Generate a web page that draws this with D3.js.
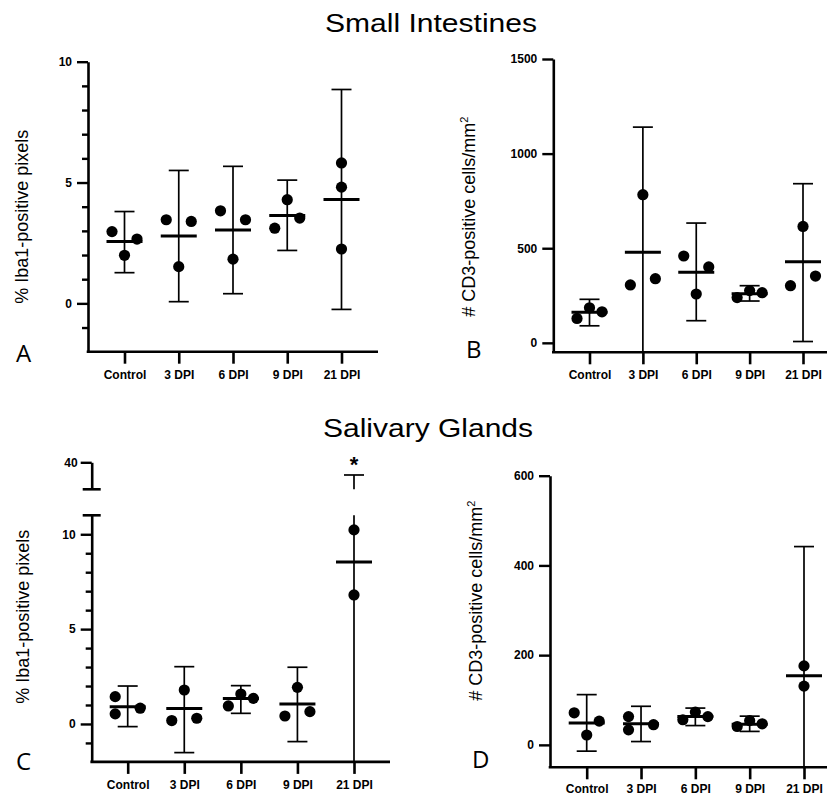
<!DOCTYPE html>
<html><head><meta charset="utf-8">
<script src="https://cdn.jsdelivr.net/npm/d3@7"></script>
<style>body{margin:0;background:#fff} svg{display:block}</style>
</head><body>
<svg id="c" width="828" height="796"></svg>
<script>
const categories = ["Control", "3 DPI", "6 DPI", "9 DPI", "21 DPI"];

// Panel A: Small intestines, % Iba1-positive pixels
const siIba1Values = [[2.97, 1.99, 2.66], [3.46, 1.52, 3.39], [3.83, 1.83, 3.46], [3.11, 4.29, 3.53], [5.81, 4.81, 2.25]];
const siIba1Spread = [[-1, 0, 1], [-1, 0, 1], [-1, 0, 1], [-1, 0, 1], [0, 0, 0]];
const siIba1Mean = [2.56, 2.79, 3.04, 3.64, 4.30];
const siIba1Upper = [3.80, 5.50, 5.67, 5.10, 8.85];
const siIba1Lower = [1.27, 0.07, 0.40, 2.19, -0.25];
const siIba1Ticks = [0, 5, 10];

// Panel B: Small intestines, # CD3-positive cells/mm2
const siCd3Values = [[129, 185, 164], [306, 783, 339], [459, 258, 401], [239, 276, 265], [302, 615, 353]];
const siCd3Spread = [[-1, 0, 1], [-1, 0, 1], [-1, 0, 1], [-1, 0, 1], [-1, 0, 1]];
const siCd3Mean = [161, 479, 373, 260, 428];
const siCd3Upper = [230, 1140, 633, 302, 841];
const siCd3Lower = [90, -182, 117, 221, 7];
const siCd3Ticks = [0, 500, 1000, 1500];

// Panel C: Salivary glands, % Iba1-positive pixels (broken axis)
const sgIba1Values = [[1.44, 0.53, 0.83], [0.18, 1.79, 0.30], [0.95, 1.58, 1.35], [0.42, 1.93, 0.65], [10.23, 6.80]];
const sgIba1Spread = [[-1, -1, 1], [-1, 0, 1], [-1, 0, 1], [-1, 0, 1], [0, 0]];
const sgIba1Mean = [0.91, 0.81, 1.34, 1.05, 8.54];
const sgIba1Upper = [2.00, 3.02, 2.02, 2.99, 30.6];
const sgIba1Lower = [-0.14, -1.51, 0.56, -0.93, -13];
const sgIba1Ticks = [0, 5, 10];
const sgIba1UpperTicks = [40];
const sgIba1Sig = ["", "", "", "", "*"];

// Panel D: Salivary glands, # CD3-positive cells/mm2
const sgCd3Values = [[71.5, 22, 53], [63, 33.5, 45], [56, 73, 63], [41, 54, 47], [176, 131]];
const sgCd3Spread = [[-1, 0, 1], [-1, -1, 1], [-1, 0, 1], [-1, 0, 1], [0, 0]];
const sgCd3Mean = [49, 47, 63, 46, 154];
const sgCd3Upper = [112, 86, 82, 64, 442];
const sgCd3Lower = [-14, 7.4, 43, 30, -135];
const sgCd3Ticks = [0, 200, 400, 600];

const svg = d3.select("#c");
const FONT = "'Liberation Sans', Arial, Helvetica, sans-serif";

function title(txt, x, y, len) {
  svg.append("text").attr("x", x).attr("y", y).attr("font-family", FONT)
    .attr("font-size", 26).attr("textLength", len).attr("lengthAdjust", "spacingAndGlyphs")
    .attr("fill", "#000").text(txt);
}
title("Small Intestines", 325, 31.5, 212);
title("Salivary Glands", 323, 436.5, 210);

function styleAxis(g, sw) {
  g.selectAll(".domain").attr("stroke", "#000").attr("stroke-width", 2.6);
  g.selectAll(".tick line").attr("stroke", "#000").attr("stroke-width", sw || 2.4);
  g.selectAll(".tick text").attr("font-family", FONT).attr("font-weight", "bold")
    .attr("font-size", 12).attr("fill", "#000");
}

function panel(p) {
  const g = svg.append("g");
  const x = d3.scalePoint().domain(categories).range(p.catRange);
  const y = d3.scaleLinear().domain(p.yDomain).range(p.yRange);
  const yU = p.upper ? d3.scaleLinear().domain(p.upper.domain).range(p.upper.range) : null;
  const step = 12.5;

  // y axis (major)
  const ya = g.append("g").attr("transform", `translate(${p.x0},0)`)
    .call(d3.axisLeft(y).tickValues(p.ticks).tickSize(11).tickSizeOuter(0).tickPadding(5).tickFormat(d3.format("d")));
  styleAxis(ya);
  if (p.minor) {
    const ym = g.append("g").attr("transform", `translate(${p.x0},0)`)
      .call(d3.axisLeft(y).tickValues(p.minor).tickSize(6).tickSizeOuter(0).tickFormat(""));
    styleAxis(ym);
    ym.select(".domain").remove();
  }
  if (yU) {
    const yu = g.append("g").attr("transform", `translate(${p.x0},0)`)
      .call(d3.axisLeft(yU).tickValues(p.upper.ticks).tickSize(11).tickSizeOuter(0).tickPadding(3).tickFormat(d3.format("d")));
    styleAxis(yu);
    // break caps
    [yU(p.upper.domain[0]), y(p.yDomain[1])].forEach(yy => {
      g.append("line").attr("x1", p.x0 - 9).attr("x2", p.x0 + 9).attr("y1", yy).attr("y2", yy)
        .attr("stroke", "#000").attr("stroke-width", 2.6);
    });
  }
  // x axis
  const xBase = y(p.yDomain[0]);
  const xa = g.append("g").attr("transform", `translate(0,${xBase})`)
    .call(d3.axisBottom(x).tickSize(12).tickSizeOuter(0).tickPadding(p.xPad));
  styleAxis(xa, 2.6);
  xa.select(".domain").remove();
  g.append("line").attr("x1", p.x0 - 1.3).attr("x2", p.xEnd).attr("y1", xBase).attr("y2", xBase)
    .attr("stroke", "#000").attr("stroke-width", 2.6);

  // error bars
  const capW = 10, meanW = 18;
  categories.forEach((c, i) => {
    const cx = x(c);
    const lo = p.lower[i], hi = p.hi[i];
    const loC = Math.max(lo, p.yDomain[0]);
    const lineAttrs = sel => sel.attr("stroke", "#000").attr("stroke-width", 1.7).attr("fill", "none");
    if (yU && hi > p.yDomain[1]) {
      g.append("line").attr("x1", cx).attr("x2", cx).attr("y1", y(loC)).attr("y2", y(p.yDomain[1])).call(lineAttrs);
      g.append("line").attr("x1", cx).attr("x2", cx).attr("y1", yU(p.upper.domain[0])).attr("y2", yU(hi)).call(lineAttrs);
      g.append("line").attr("x1", cx - capW).attr("x2", cx + capW).attr("y1", yU(hi)).attr("y2", yU(hi)).call(lineAttrs);
    } else {
      g.append("line").attr("x1", cx).attr("x2", cx).attr("y1", y(loC)).attr("y2", y(hi)).call(lineAttrs);
      g.append("line").attr("x1", cx - capW).attr("x2", cx + capW).attr("y1", y(hi)).attr("y2", y(hi)).call(lineAttrs);
    }
    if (lo >= p.yDomain[0]) {
      g.append("line").attr("x1", cx - capW).attr("x2", cx + capW).attr("y1", y(lo)).attr("y2", y(lo)).call(lineAttrs);
    }
    // points
    p.values[i].forEach((v, j) => {
      g.append("circle").attr("cx", cx + p.spread[i][j] * step).attr("cy", y(v)).attr("r", 5.6).attr("fill", "#000");
    });
    // mean
    g.append("line").attr("x1", cx - meanW).attr("x2", cx + meanW).attr("y1", y(p.mean[i])).attr("y2", y(p.mean[i]))
      .attr("stroke", "#000").attr("stroke-width", 3);
    if (p.sig && p.sig[i]) {
      const yy = (yU && hi > p.yDomain[1]) ? yU(hi) : y(hi);
      g.append("text").attr("x", cx).attr("y", yy - 3).attr("text-anchor", "middle")
        .attr("font-family", FONT).attr("font-weight", "bold").attr("font-size", 22).text(p.sig[i]);
    }
  });

  // y title
  const t = g.append("text").attr("transform", `translate(${p.titleX},${p.titleY}) rotate(-90)`)
    .attr("text-anchor", "middle").attr("font-family", FONT).attr("font-size", 18).attr("fill", "#000");
  if (p.sup) {
    t.append("tspan").text(p.title);
    t.append("tspan").attr("font-size", 11).attr("dy", -7).text(p.sup);
  } else t.text(p.title);

  // panel letter
  g.append("text").attr("x", p.letterX).attr("y", p.letterY).attr("font-family", "'Open Sans', 'Liberation Sans', sans-serif")
    .attr("font-size", 24).attr("fill", "#000").text(p.letter);
}

panel({
  x0: 88, xEnd: 378, catRange: [124.5, 341.5], yDomain: [-2, 10], yRange: [351.7, 61.7],
  ticks: siIba1Ticks, minor: d3.range(-1, 10).filter(v => !siIba1Ticks.includes(v)),
  values: siIba1Values, spread: siIba1Spread, mean: siIba1Mean, hi: siIba1Upper, lower: siIba1Lower,
  title: "% Iba1-positive pixels", titleX: 28, titleY: 216.7, letter: "A", letterX: 16, letterY: 362, xPad: 6.8
});
panel({
  x0: 553.3, xEnd: 827, catRange: [589.5, 803], yDomain: [-50, 1500], yRange: [352.3, 59],
  ticks: siCd3Ticks, minor: null,
  values: siCd3Values, spread: siCd3Spread, mean: siCd3Mean, hi: siCd3Upper, lower: siCd3Lower,
  title: "# CD3-positive cells/mm", sup: "2", titleX: 475, titleY: 216.7, letter: "B", letterX: 466, letterY: 358.3, xPad: 6.2
});
panel({
  x0: 91.7, xEnd: 390, catRange: [127.7, 354], yDomain: [-2, 11], yRange: [761.9, 515.3],
  ticks: sgIba1Ticks, minor: d3.range(-1, 11).filter(v => !sgIba1Ticks.includes(v)),
  upper: { domain: [20, 40], range: [489.3, 462.3], ticks: sgIba1UpperTicks },
  values: sgIba1Values, spread: sgIba1Spread, mean: sgIba1Mean, hi: sgIba1Upper, lower: sgIba1Lower, sig: sgIba1Sig,
  title: "% Iba1-positive pixels", titleX: 28.5, titleY: 616.7, letter: "C", letterX: 16, letterY: 770, xPad: 6.5
});
panel({
  x0: 550, xEnd: 827, catRange: [586.7, 804], yDomain: [-50, 600], yRange: [767.3, 475.7],
  ticks: sgCd3Ticks, minor: null,
  values: sgCd3Values, spread: sgCd3Spread, mean: sgCd3Mean, hi: sgCd3Upper, lower: sgCd3Lower,
  title: "# CD3-positive cells/mm", sup: "2", titleX: 482, titleY: 600.7, letter: "D", letterX: 472, letterY: 768, xPad: 5.5
});
</script>
</body></html>
